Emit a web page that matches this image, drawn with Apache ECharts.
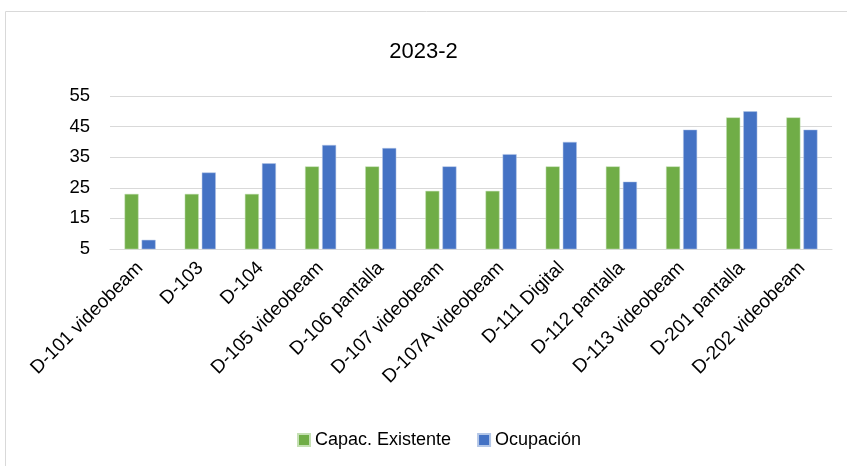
<!DOCTYPE html>
<html>
<head>
<meta charset="utf-8">
<script src="https://cdn.jsdelivr.net/npm/echarts@6/dist/echarts.min.js"></script>
<style>
html, body { margin: 0; padding: 0; background: #fff; }
#chart { width: 847px; height: 466px; }
</style>
</head>
<body>
<div id="chart"></div>
<script>
// salones
var categories = ['D-101 videobeam', 'D-103', 'D-104', 'D-105 videobeam', 'D-106 pantalla',
	'D-107 videobeam', 'D-107A videobeam', 'D-111 Digital', 'D-112 pantalla',
	'D-113 videobeam', 'D-201 pantalla', 'D-202 videobeam'];
var capacidad = [23, 23, 23, 32, 32, 24, 24, 32, 32, 32, 48, 48];
var ocupacion = [8, 30, 33, 39, 38, 32, 36, 40, 27, 44, 50, 44];

var font = '"Liberation Sans", "Noto Sans", sans-serif';

var chart = echarts.init(document.getElementById('chart'));
chart.setOption({
	animation: false,
	textStyle: { fontFamily: font },
	title: {
		text: '2023-2',
		left: 'center',
		top: 36,
		textStyle: { fontSize: 22, fontWeight: 'normal', color: '#000', fontFamily: font }
	},
	graphic: [{
		type: 'rect',
		shape: { x: 5.5, y: 11.5, width: 860, height: 470 },
		style: { fill: 'none', stroke: '#d9d9d9', lineWidth: 1 },
		silent: true
	}],
	legend: {
		top: 426,
		left: 292,
		itemWidth: 12,
		itemHeight: 12,
		itemGap: 26,
		icon: 'rect',
		textStyle: { fontSize: 18, color: '#000', fontFamily: font },
		data: ['Capac. Existente', 'Ocupación']
	},
	grid: { left: 110, right: 15, top: 96, bottom: 217 },
	xAxis: {
		type: 'category',
		data: categories,
		axisTick: { show: false },
		axisLine: { lineStyle: { color: '#d9d9d9', width: 1 } },
		axisLabel: {
			rotate: 45,
			interval: 0,
			margin: 16,
			fontSize: 19,
			color: '#000'
		}
	},
	yAxis: {
		type: 'value',
		min: 5,
		max: 55,
		interval: 10,
		axisLine: { show: false },
		axisTick: { show: false },
		splitLine: { lineStyle: { color: '#d9d9d9', width: 1 } },
		axisLabel: { fontSize: 18.5, color: '#000', margin: 20 }
	},
	series: [
		{
			name: 'Capac. Existente',
			type: 'bar',
			data: capacidad,
			barWidth: 14,
			barGap: '22%',
			itemStyle: { color: '#70ad47', borderColor: '#c5e0b4', borderWidth: 0.5 }
		},
		{
			name: 'Ocupación',
			type: 'bar',
			data: ocupacion,
			barWidth: 14,
			itemStyle: { color: '#4472c4', borderColor: '#b4c7e7', borderWidth: 0.5 }
		}
	]
});
</script>
</body>
</html>
